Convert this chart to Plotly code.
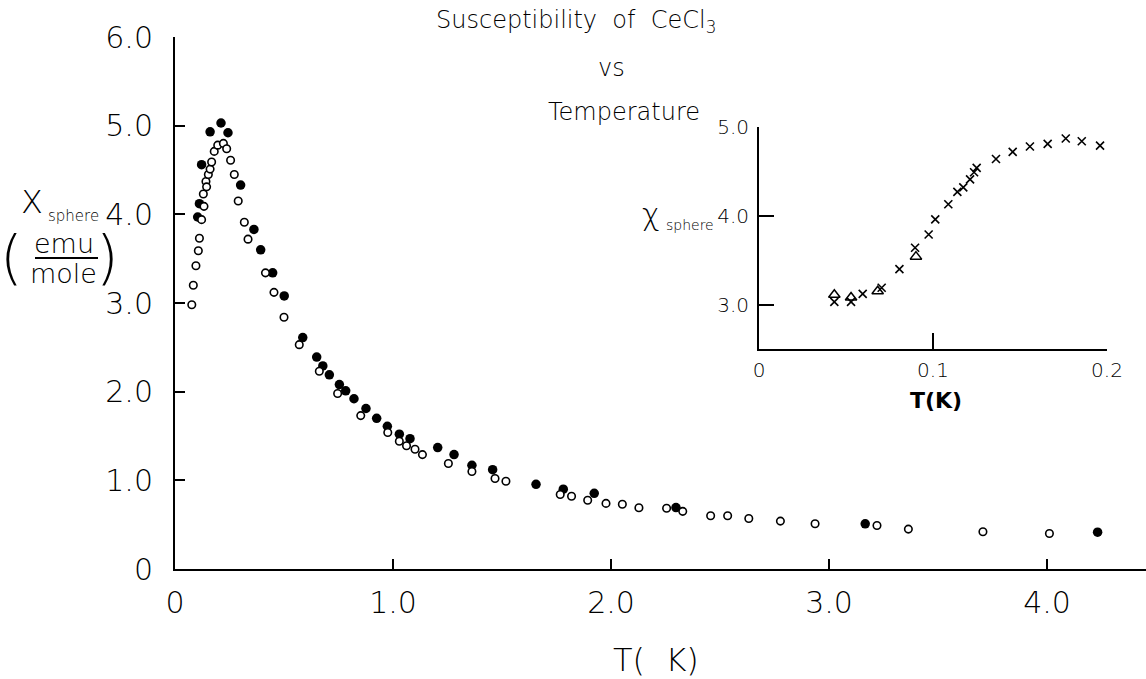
import plotly.graph_objects as go

# ---------------- data ----------------
open_T = [0.077, 0.084, 0.096, 0.107, 0.112, 0.122, 0.130, 0.133, 0.142, 0.145, 0.153, 0.161,
          0.168, 0.180, 0.196, 0.222, 0.237, 0.255, 0.272, 0.290, 0.318, 0.335, 0.415, 0.454,
          0.500, 0.570, 0.662, 0.746, 0.852, 0.976, 1.029, 1.062, 1.101, 1.135, 1.254, 1.362,
          1.468, 1.518, 1.767, 1.819, 1.893, 1.977, 2.052, 2.128, 2.255, 2.329, 2.457, 2.535,
          2.632, 2.777, 2.936, 3.220, 3.364, 3.706, 4.011]
open_chi = [2.98, 3.20, 3.42, 3.59, 3.73, 3.94, 4.23, 4.09, 4.37, 4.31, 4.45, 4.51,
            4.59, 4.71, 4.78, 4.80, 4.74, 4.61, 4.45, 4.15, 3.91, 3.72, 3.34, 3.12,
            2.84, 2.53, 2.23, 1.98, 1.73, 1.54, 1.44, 1.39, 1.35, 1.29, 1.19, 1.10,
            1.02, 0.99, 0.84, 0.82, 0.775, 0.74, 0.73, 0.69, 0.685, 0.65, 0.60, 0.60,
            0.57, 0.54, 0.51, 0.49, 0.45, 0.42, 0.40]

filled_T = [0.104, 0.112, 0.122, 0.161, 0.211, 0.243, 0.301, 0.362, 0.393, 0.448, 0.501,
            0.586, 0.650, 0.678, 0.708, 0.754, 0.783, 0.821, 0.876, 0.925, 0.974, 1.029,
            1.078, 1.205, 1.280, 1.362, 1.457, 1.656, 1.781, 1.923, 2.298, 3.166, 4.232]
filled_chi = [3.97, 4.12, 4.56, 4.93, 5.03, 4.92, 4.33, 3.83, 3.60, 3.34, 3.08,
              2.61, 2.39, 2.29, 2.19, 2.08, 2.01, 1.92, 1.81, 1.70, 1.61, 1.52,
              1.47, 1.37, 1.29, 1.17, 1.12, 0.955, 0.90, 0.854, 0.693, 0.51, 0.415]

inset_cross_T = [0.0433, 0.0529, 0.0596, 0.0705, 0.0807, 0.0897, 0.0975, 0.1013, 0.1088,
                 0.1140, 0.1174, 0.1213, 0.1236, 0.1251, 0.1362, 0.1458, 0.1557, 0.1659,
                 0.1763, 0.1855, 0.1960]
inset_cross_chi = [3.03, 3.03, 3.12, 3.19, 3.40, 3.64, 3.79, 3.96, 4.13,
                   4.27, 4.32, 4.41, 4.49, 4.54, 4.64, 4.72, 4.78, 4.81,
                   4.87, 4.84, 4.79]

inset_tri_T = [0.0433, 0.0529, 0.0682, 0.0902]
inset_tri_chi = [3.11, 3.08, 3.15, 3.54]

main_xticks = [0, 1, 2, 3, 4]
main_xticktext = ["0", "1.0", "2.0", "3.0", "4.0"]
main_yticks = [0, 1, 2, 3, 4, 5, 6]
main_yticktext = ["0", "1.0", "2.0", "3.0", "4.0", "5.0", "6.0"]
inset_xticks = [0, 0.1, 0.2]
inset_xticktext = ["0", "0.1", "0.2"]
inset_yticks = [3, 4, 5]
inset_yticktext = ["3.0", "4.0", "5.0"]

# ---------------- layout helpers ----------------
W, H = 1146, 679
FONT = "DejaVu Sans"


def px(x):
    return x / W


def py(y):
    return 1 - y / H


fig = go.Figure()

fig.add_trace(go.Scatter(x=filled_T, y=filled_chi, mode="markers", xaxis="x", yaxis="y",
                         marker=dict(symbol="circle", size=9.5, color="black",
                                     line=dict(width=0)),
                         showlegend=False))
fig.add_trace(go.Scatter(x=open_T, y=open_chi, mode="markers", xaxis="x", yaxis="y",
                         marker=dict(symbol="circle", size=7.5, color="white",
                                     line=dict(width=1.6, color="black")),
                         showlegend=False))
fig.add_trace(go.Scatter(x=inset_cross_T, y=inset_cross_chi, mode="markers", xaxis="x2",
                         yaxis="y2",
                         marker=dict(symbol="x-thin-open", size=8, color="black",
                                     line=dict(width=1.6, color="black")),
                         showlegend=False))
fig.add_trace(go.Scatter(x=inset_tri_T, y=inset_tri_chi, mode="markers", xaxis="x2",
                         yaxis="y2",
                         marker=dict(symbol="triangle-up-open", size=10, color="black",
                                     line=dict(width=1.5, color="black")),
                         showlegend=False))

axis_common = dict(showline=True, linecolor="black", linewidth=2, ticks="inside",
                   tickcolor="black", tickwidth=2, showgrid=False, zeroline=False,
                   tickmode="array", automargin=False)

fig.update_layout(
    width=W, height=H,
    margin=dict(l=0, r=0, t=0, b=0, pad=0, autoexpand=False),
    paper_bgcolor="white", plot_bgcolor="white",
    font=dict(family=FONT, color="black"),
    xaxis=dict(domain=[px(175), 1], range=[0, 4.454], anchor="y",
               tickvals=main_xticks, ticktext=main_xticktext, ticklen=10,
               tickfont=dict(size=30, family=FONT, weight=200, color="black"),
               ticklabelstandoff=6, **axis_common),
    yaxis=dict(domain=[py(569), py(37)], range=[0, 6], anchor="x",
               tickvals=main_yticks, ticktext=main_yticktext, ticklen=10,
               tickfont=dict(size=30, family=FONT, weight=200, color="black"),
               ticklabelstandoff=14, **axis_common),
    xaxis2=dict(domain=[px(759), px(1107)], range=[0, 0.2], anchor="y2",
                tickvals=inset_xticks, ticktext=inset_xticktext, ticklen=16,
                tickfont=dict(size=20, family=FONT, weight=200, color="black"),
                ticklabelstandoff=2, **axis_common),
    yaxis2=dict(domain=[py(349), py(127)], range=[2.5, 5.0], anchor="x2",
                tickvals=inset_yticks, ticktext=inset_yticktext, ticklen=15,
                tickfont=dict(size=20, family=FONT, weight=200, color="black"),
                ticklabelstandoff=4, **axis_common),
)

ann = []


def text(t, x, y, size, xanchor="center", bold=False):
    ann.append(dict(text=t, x=px(x), y=py(y),
                    xref="paper", yref="paper", xanchor=xanchor, yanchor="middle",
                    showarrow=False,
                    font=dict(size=size, family=FONT, color="black",
                              weight=700 if bold else 200)))


# title
text("Susceptibility  of  CeCl<sub>3</sub>", 576, 22, 24)
text("vs", 611, 68, 24)
text("Temperature", 624, 112, 24)

# main y-axis label
text("X", 32, 202, 32)
text("sphere", 46, 216, 15, xanchor="left")
text("(", 11, 258, 58)
text(")", 107, 258, 58)
text("emu", 64, 243, 27)
text("mole", 63, 273, 27)

# main x-axis title
text("T(  K)", 656, 660, 32)

# inset labels
text("χ", 651, 214, 30)
text("sphere", 716, 225, 14, xanchor="right")
text("T(K)", 936, 400, 22, bold=True)

fig.update_layout(annotations=ann)
fig.add_shape(type="line", xref="paper", yref="paper", x0=px(35), x1=px(98),
              y0=py(258), y1=py(258), line=dict(color="black", width=2))

fig.write_html("out.html")
